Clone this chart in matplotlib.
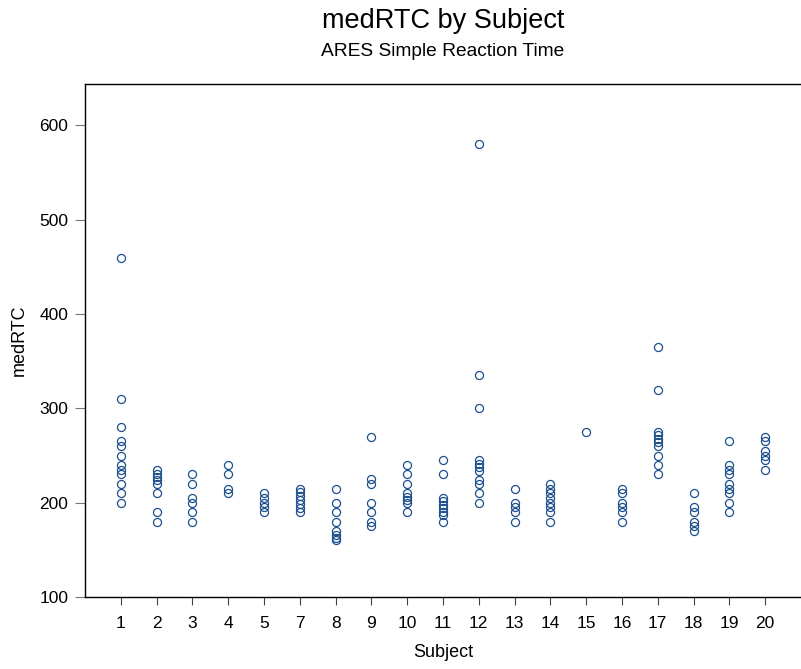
import numpy as np
import matplotlib.pyplot as plt

plt.rcParams['font.family'] = ['Liberation Sans', 'DejaVu Sans']

# medRTC values per subject (there is no subject 6)
subjects = ['1', '2', '3', '4', '5', '7', '8', '9', '10', '11',
            '12', '13', '14', '15', '16', '17', '18', '19', '20']
s1 = [460, 310, 280, 265, 260, 250, 240, 235, 230, 220, 210, 200]
s2 = [235, 230, 227, 224, 220, 210, 190, 180]
s3 = [230, 220, 205, 200, 190, 180]
s4 = [240, 230, 215, 210]
s5 = [210, 205, 200, 195, 190]
s7 = [215, 211, 207, 203, 199, 194, 190]
s8 = [215, 200, 190, 180, 170, 166, 163, 160]
s9 = [270, 225, 220, 200, 190, 180, 175]
s10 = [240, 230, 220, 210, 206, 203, 200, 190]
s11 = [245, 230, 205, 202, 198, 194, 190, 187, 180]
s12 = [580, 335, 300, 245, 241, 238, 234, 224, 220, 210, 200]
s13 = [215, 200, 195, 190, 180]
s14 = [220, 215, 210, 205, 200, 195, 190, 180]
s15 = [275]
s16 = [215, 210, 200, 195, 190, 180]
s17 = [365, 320, 275, 272, 268, 264, 260, 250, 240, 230]
s18 = [210, 195, 190, 180, 175, 170]
s19 = [265, 240, 235, 230, 220, 215, 210, 200, 190]
s20 = [270, 265, 255, 250, 245, 235]
values = [s1, s2, s3, s4, s5, s7, s8, s9, s10, s11,
          s12, s13, s14, s15, s16, s17, s18, s19, s20]

fig = plt.figure(figsize=(8.01, 6.69), dpi=100)
ax = fig.add_axes([85/801, 72/669, 716/801, 513/669])

for i, v in enumerate(values):
    ax.plot([i]*len(v), v, linestyle='none', marker='o', ms=5.8,
            mfc='none', mec='#1c4f8e', mew=0.9)

ax.set_xlim(-1, 19)
ax.set_ylim(100, 644)
ax.set_xticks(np.arange(len(subjects)))
ax.set_xticklabels(subjects)
ax.set_yticks([100, 200, 300, 400, 500, 600])

ax.spines['right'].set_visible(False)
for s in ['left', 'top', 'bottom']:
    ax.spines[s].set_linewidth(1.0)
ax.tick_params(axis='x', length=6, width=0.8, color='#444444', labelsize=12.5, pad=8)
ax.tick_params(axis='y', length=7, width=0.8, color='#777777', labelsize=12.5, pad=5)

ax.set_xlabel('Subject', fontsize=13, labelpad=9)
ax.set_ylabel('medRTC', fontsize=13, labelpad=8)

fig.text(443/801, 1 - 21/669, 'medRTC by Subject', ha='center', va='center', fontsize=19.5)
fig.text(443/801, 1 - 52/669, 'ARES Simple Reaction Time', ha='center', va='center', fontsize=13.8)

fig.savefig('out.png', dpi=100)
